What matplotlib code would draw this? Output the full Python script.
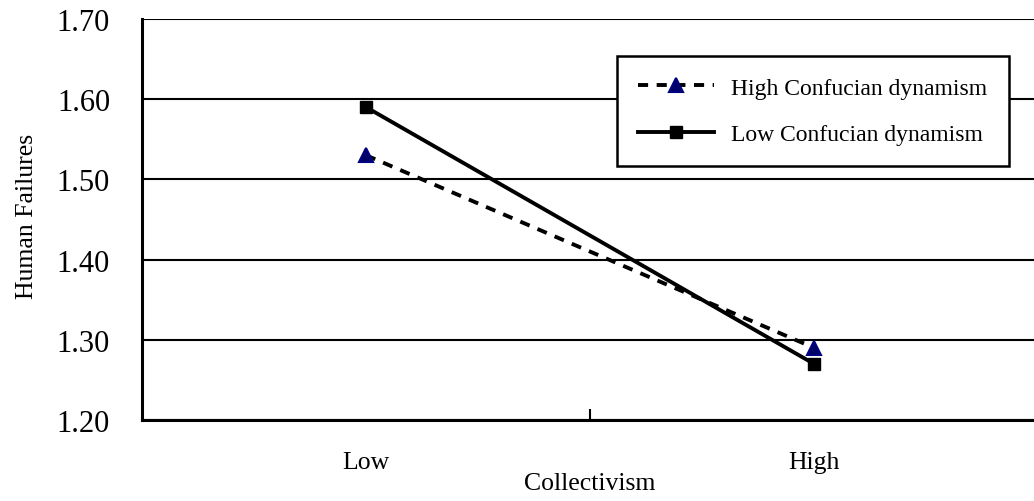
import matplotlib.pyplot as plt
from matplotlib.ticker import FixedLocator

plt.rcParams['font.family'] = ['Liberation Serif', 'DejaVu Serif']

categories = ['Low', 'High']
high_cd = [1.53, 1.29]
low_cd = [1.59, 1.27]
yticks = [1.20, 1.30, 1.40, 1.50, 1.60, 1.70]

fig = plt.figure(figsize=(10.34, 5.02), dpi=100)
ax = fig.add_axes([0.1373, 0.1614, 0.8665, 0.799])

xpos = [0.5, 1.5]
ax.plot(xpos, high_cd, linestyle=(0, (2.6, 2.2)), color='black', linewidth=2.8,
        marker='^', markersize=10, markerfacecolor='#000066', markeredgecolor='#000080',
        markeredgewidth=1.5, label='High Confucian dynamism', zorder=3)
ax.plot(xpos, low_cd, linestyle='-', color='black', linewidth=2.8,
        marker='s', markersize=9, markerfacecolor='black', markeredgecolor='black',
        label='Low Confucian dynamism', zorder=3)

ax.set_xlim(0, 2)
ax.set_ylim(1.20, 1.70)
ax.set_yticks(yticks)
ax.set_yticklabels([f'{v:.2f}' for v in yticks], fontsize=22)
ax.yaxis.grid(True, color='black', linewidth=1.5)
ax.set_axisbelow(True)

# category labels sit between the boundary ticks
ax.xaxis.set_major_locator(FixedLocator([1.0]))
ax.xaxis.set_minor_locator(FixedLocator(xpos))
ax.set_xticklabels([''])
ax.set_xticklabels(categories, minor=True, fontsize=18.5)
ax.tick_params(axis='x', which='major', direction='in', length=8, width=1.5)
ax.tick_params(axis='x', which='minor', length=0, pad=22)
ax.tick_params(axis='y', length=0, pad=23)

for s in ['top', 'right']:
    ax.spines[s].set_visible(False)
for s in ['left', 'bottom']:
    ax.spines[s].set_linewidth(2.2)

ax.set_xlabel('Collectivism', fontsize=18.5)
ax.xaxis.set_label_coords(0.5, -0.13)
ax.set_ylabel('Human Failures', fontsize=18.5)
ax.yaxis.set_label_coords(-0.116, 0.51)

leg = ax.legend(loc='upper left', bbox_to_anchor=(0.530, 0.908), fontsize=17,
                frameon=True, fancybox=False, edgecolor='black', framealpha=1,
                handlelength=3.2, handletextpad=0.75, borderpad=0.9, labelspacing=1.05,
                borderaxespad=0)
leg.get_frame().set_linewidth(1.8)

fig.savefig('out.png', dpi=100)
